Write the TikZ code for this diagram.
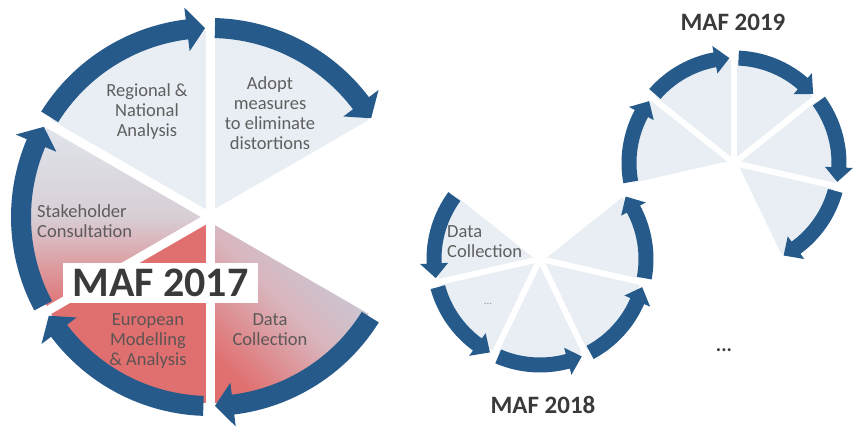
\documentclass[tikz,border=0pt]{standalone}
\usepackage{fontspec}
\setmainfont{Carlito}
\definecolor{ringblue}{HTML}{255A8A}
\definecolor{wedgelight}{HTML}{E8EEF3}
\definecolor{wedgered}{HTML}{E07070}
\definecolor{stakeTop}{HTML}{E0E5EC}
\definecolor{stakeMid}{HTML}{D8CED6}
\definecolor{dataTop}{HTML}{C2CEDE}
\definecolor{dataMid}{HTML}{D9B6BE}
\definecolor{labelgray}{HTML}{505050}
\definecolor{titlegray}{HTML}{3A3A3A}
\newcommand{\ringarrow}[7]{%
  \pgfmathsetmacro{\arwB}{#6-#7}%
  \pgfmathsetmacro{\arwO}{#2+#3/2}%
  \pgfmathsetmacro{\arwI}{#2-#3/2}%
  \pgfmathsetmacro{\arwHO}{#2+#4}%
  \pgfmathsetmacro{\arwHI}{#2-#4}%
  \fill[ringblue, shift={(#1)}] (#5:\arwO) arc[start angle=#5, end angle=\arwB, radius=\arwO] -- (\arwB:\arwHO) -- (#6:#2) -- (\arwB:\arwHI) -- (\arwB:\arwI) arc[start angle=\arwB, end angle=#5, radius=\arwI] -- cycle;}
\newcommand{\wedgefill}[5]{%
  \path[#1, shift={(#2)}] (0,0) -- (#4:#3) arc[start angle=#4, end angle=#5, radius=#3] -- cycle;}
\begin{document}
\begin{tikzpicture}[x=1pt,y=1pt,
  lbl/.style={font=\fontsize{18.5}{20}\selectfont, text=labelgray, text opacity=0.9, align=center, inner sep=0pt},
  maftitle/.style={font=\fontsize{25}{28}\selectfont\bfseries, text=titlegray, inner sep=0pt},
  gapline/.style={draw=white, line width=#1}]
\useasboundingbox (0,0) rectangle (863,435);
\coordinate (cA) at (210,218);
\coordinate (cB) at (540,176);
\coordinate (cC) at (734,272);
% big circle wedges
\wedgefill{fill=wedgelight}{cA}{186}{90}{150}
\wedgefill{fill=wedgelight}{cA}{186}{30}{90}
\wedgefill{top color=stakeTop, bottom color=wedgered, middle color=stakeMid}{cA}{186}{150}{210}
\wedgefill{fill=wedgered}{cA}{186}{210}{270}
\wedgefill{top color=dataTop, bottom color=wedgered, middle color=dataMid, shading angle=-45}{cA}{186}{270}{330}
\foreach \a in {30,90,150,210,270,330} \draw[gapline=9] (cA) -- ++(\a:192);
% middle circle wedges
\foreach \s/\e in {141.43/192.86, 192.86/244.29, 244.29/295.71, 295.71/347.14, 347.14/398.57}
  \wedgefill{fill=wedgelight}{cB}{103}{\s}{\e};
\foreach \a in {141.43,192.86,244.29,295.71,347.14,38.57} \draw[gapline=6] (cB) -- ++(\a:108);
% right circle wedges
\foreach \s/\e in {295.71/347.14, 347.14/398.57, 38.57/90, 90/141.43, 141.43/192.86}
  \wedgefill{fill=wedgelight}{cC}{103}{\s}{\e};
\foreach \a in {295.71,347.14,38.57,90,141.43,192.86} \draw[gapline=6] (cC) -- ++(\a:108);
% big circle arrows (clockwise)
\ringarrow{cA}{189}{20}{22}{148}{91.5}{-5.5}
\ringarrow{cA}{189}{20}{22}{88.5}{31.5}{-5.5}
\ringarrow{cA}{189}{20}{22}{208}{151.5}{-5.5}
\ringarrow{cA}{189}{20}{22}{268}{211.5}{-5.5}
\ringarrow{cA}{189}{20}{22}{328}{271.5}{-5.5}
% middle circle arrows (counter-clockwise)
\ringarrow{cB}{106}{15}{14}{143.9}{190.4}{8}
\ringarrow{cB}{106}{15}{14}{195.4}{241.8}{8}
\ringarrow{cB}{106}{15}{14}{246.8}{293.2}{8}
\ringarrow{cB}{106}{15}{14}{298.2}{344.6}{8}
\ringarrow{cB}{106}{15}{14}{349.6}{396.1}{8}
% right circle arrows (clockwise)
\ringarrow{cC}{105}{15}{14}{190.4}{143.9}{-8}
\ringarrow{cC}{105}{15}{14}{138.9}{92.5}{-8}
\ringarrow{cC}{105}{15}{14}{87.5}{41.1}{-8}
\ringarrow{cC}{105}{15}{14}{36.1}{-10.4}{-8}
\ringarrow{cC}{105}{15}{14}{-15.4}{-61.8}{-8}
% labels
\node[lbl] (regional) at (147,323) {Regional \&\\National\\Analysis};
\node[lbl] (adopt) at (270,322) {Adopt\\measures\\to eliminate\\distortions};
\node[lbl, align=left, anchor=west] (stake) at (37,214) {Stakeholder\\Consultation};
\node[lbl] (euro) at (148,94) {European\\Modelling\\\& Analysis};
\node[lbl] (dataA) at (270,105) {Data\\Collection};
\node[fill=white, minimum width=195pt, minimum height=40pt, inner sep=0pt, font=\fontsize{42}{42}\selectfont\bfseries, text=titlegray] (maf17) at (160.5,152) {MAF 2017};
\node[lbl, align=left, anchor=west] (dataB) at (447,193) {Data\\Collection};
\node[font=\fontsize{11}{11}\selectfont, text=labelgray!60, inner sep=0pt] (dotsB) at (488,131) {...};
\node[maftitle] (maf18) at (543,30) {MAF 2018};
\node[maftitle] (maf19) at (733,413) {MAF 2019};
\node[font=\fontsize{20}{20}\selectfont\bfseries, text=titlegray, inner sep=0pt] (dotsC) at (724,85) {...};
\end{tikzpicture}
\end{document}
